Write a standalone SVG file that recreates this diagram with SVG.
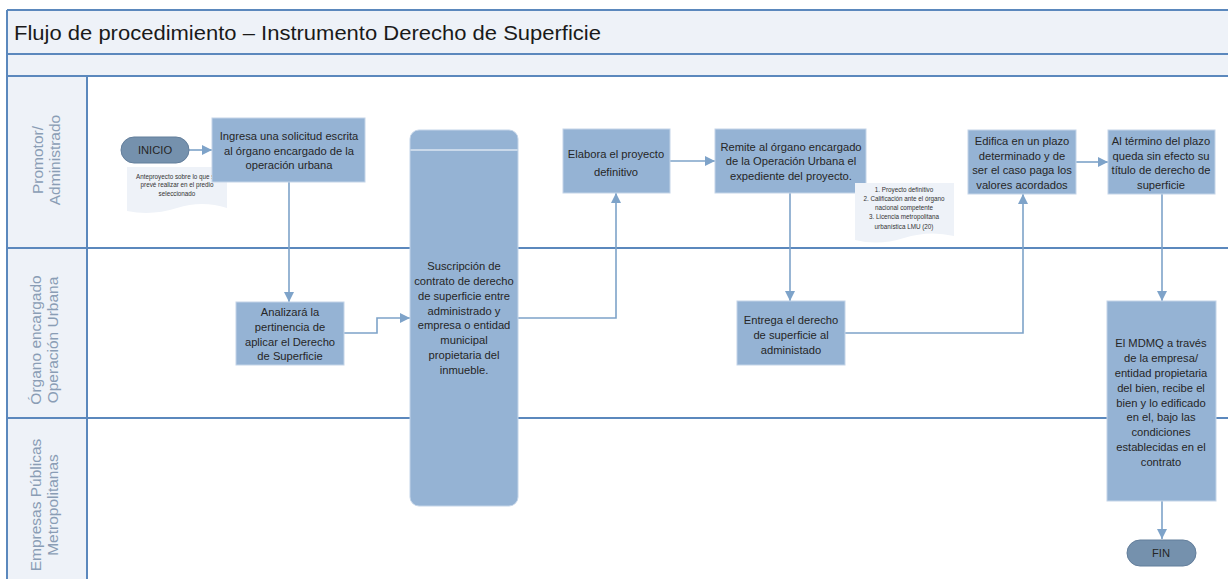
<svg xmlns="http://www.w3.org/2000/svg" width="1228" height="579" viewBox="0 0 1228 579">
<defs>
<style>
.frame{fill:none;stroke:#5b88bd;stroke-width:2}
.hdr{fill:#eef2f8}
.lane{font-family:"Liberation Sans",Arial,sans-serif;font-size:15.5px;fill:#8a9db5;text-anchor:middle}
.box{fill:#95b3d4;stroke:#c3d4e8;stroke-width:1}
.pill{fill:#7591ad;stroke:#637e9b;stroke-width:1}
.t{font-family:"Liberation Sans",Arial,sans-serif;font-size:11.2px;fill:#262626;text-anchor:middle}
.note{fill:#eef2f8;stroke:none}
.nt{font-family:"Liberation Sans",Arial,sans-serif;font-size:6.3px;fill:#333;text-anchor:middle}
.conn{fill:none;stroke:#7ea3c9;stroke-width:1.6}
</style>
<marker id="arr" markerUnits="userSpaceOnUse" markerWidth="12" markerHeight="12" refX="10" refY="5" orient="auto">
<path d="M0,0 L10,5 L0,10 Z" fill="#7ea3c9"/>
</marker>
</defs>
<rect width="1228" height="579" fill="#ffffff"/>
<g id="frame">
<rect class="hdr" x="7" y="10" width="1230" height="66"/>
<rect class="hdr" x="7" y="76" width="80" height="510"/>
<line class="frame" x1="7" y1="10" x2="1230" y2="10"/>
<line class="frame" x1="7" y1="10" x2="7" y2="580"/>
<line class="frame" x1="7" y1="54" x2="1230" y2="54"/>
<line class="frame" x1="7" y1="76" x2="1230" y2="76"/>
<line class="frame" x1="87" y1="76" x2="87" y2="580"/>
<line class="frame" x1="7" y1="248" x2="1230" y2="248"/>
<line class="frame" x1="7" y1="418" x2="1230" y2="418"/>
<text x="14" y="40" font-family="'Liberation Sans',Arial,sans-serif" font-size="20" fill="#1a1a1a" textLength="587" lengthAdjust="spacingAndGlyphs">Flujo de procedimiento – Instrumento Derecho de Superficie</text>
<text class="lane" transform="rotate(-90)"><tspan x="-160" y="43">Promotor/</tspan><tspan x="-160" y="60">Administrado</tspan></text>
<text class="lane" transform="rotate(-90)"><tspan x="-340" y="41">Órgano encargado</tspan><tspan x="-340" y="58">Operación Urbana</tspan></text>
<text class="lane" transform="rotate(-90)"><tspan x="-505" y="41">Empresas Públicas</tspan><tspan x="-505" y="58">Metropolitanas</tspan></text>
</g>
<g id="connectors">
<path class="conn" d="M189,150 H212" marker-end="url(#arr)"/>
<path class="conn" d="M289,182 V302" marker-end="url(#arr)"/>
<path class="conn" d="M344,333 H377 V318 H410" marker-end="url(#arr)"/>
<path class="conn" d="M518,318 H616 V193" marker-end="url(#arr)"/>
<path class="conn" d="M670,161 H715" marker-end="url(#arr)"/>
<path class="conn" d="M790,193 V301" marker-end="url(#arr)"/>
<path class="conn" d="M845,333 H1023 V194" marker-end="url(#arr)"/>
<path class="conn" d="M1076,162 H1108" marker-end="url(#arr)"/>
<path class="conn" d="M1162,194 V301" marker-end="url(#arr)"/>
<path class="conn" d="M1162,501 V539" marker-end="url(#arr)"/>
</g>
<g id="inicio">
<rect class="pill" x="121" y="137" width="68" height="26" rx="13"/>
<text class="t" x="155" y="154">INICIO</text>
</g>
<g id="nota-anteproyecto">
<path class="note" d="M127,167 H227 V208 Q202,200 177,208 T127,211 Z"/>
<text class="nt"><tspan x="177" y="178.5">Anteproyecto sobre lo que se</tspan><tspan x="177" y="187">prevé realizar en el predio</tspan><tspan x="177" y="195.5">seleccionado</tspan></text>
</g>
<g id="ingresa">
<rect class="box" x="212" y="118" width="153" height="64"/>
<text class="t"><tspan x="289" y="140">Ingresa una solicitud escrita</tspan><tspan x="289" y="155">al órgano encargado de la</tspan><tspan x="289" y="169">operación urbana</tspan></text>
</g>
<g id="analizara">
<rect class="box" x="236" y="302" width="108" height="63"/>
<text class="t"><tspan x="290" y="316">Analizará la</tspan><tspan x="290" y="331">pertinencia de</tspan><tspan x="290" y="346">aplicar el Derecho</tspan><tspan x="290" y="360">de Superficie</tspan></text>
</g>
<g id="suscripcion">
<rect class="box" x="410" y="130" width="108" height="376" rx="9"/>
<line x1="410.5" y1="150" x2="517.5" y2="150" stroke="#ffffff" stroke-width="1.2"/>
<text class="t"><tspan x="464" y="270">Suscripción de</tspan><tspan x="464" y="285">contrato de derecho</tspan><tspan x="464" y="300">de superficie entre</tspan><tspan x="464" y="315">administrado y</tspan><tspan x="464" y="329">empresa o entidad</tspan><tspan x="464" y="344">municipal</tspan><tspan x="464" y="359">propietaria del</tspan><tspan x="464" y="374">inmueble.</tspan></text>
</g>
<g id="elabora">
<rect class="box" x="563" y="129" width="107" height="64"/>
<text class="t"><tspan x="616" y="158">Elabora el proyecto</tspan><tspan x="616" y="176">definitivo</tspan></text>
</g>
<g id="remite">
<rect class="box" x="715" y="129" width="151" height="64"/>
<text class="t"><tspan x="791" y="151">Remite al órgano encargado</tspan><tspan x="791" y="165">de la Operación Urbana el</tspan><tspan x="791" y="180">expediente del proyecto.</tspan></text>
</g>
<g id="nota-requisitos">
<path class="note" d="M855,183 H954 V236 Q929,230 904,238 T855,240 Z"/>
<text class="nt"><tspan x="904" y="192">1. Proyecto definitivo</tspan><tspan x="904" y="201">2. Calificación ante el órgano</tspan><tspan x="904" y="210">nacional competente</tspan><tspan x="904" y="219">3. Licencia metropolitana</tspan><tspan x="904" y="229">urbanística LMU (20)</tspan></text>
</g>
<g id="entrega">
<rect class="box" x="737" y="301" width="108" height="64"/>
<text class="t"><tspan x="791" y="324">Entrega el derecho</tspan><tspan x="791" y="339">de superficie al</tspan><tspan x="791" y="354">administado</tspan></text>
</g>
<g id="edifica">
<rect class="box" x="968" y="130" width="108" height="64"/>
<text class="t"><tspan x="1022" y="145">Edifica en un plazo</tspan><tspan x="1022" y="159.5">determinado y de</tspan><tspan x="1022" y="174">ser el caso paga los</tspan><tspan x="1022" y="188.5">valores acordados</tspan></text>
</g>
<g id="termino">
<rect class="box" x="1108" y="130" width="107" height="64"/>
<text class="t"><tspan x="1161" y="145">Al término del plazo</tspan><tspan x="1161" y="159.5">queda sin efecto su</tspan><tspan x="1161" y="174">título de derecho de</tspan><tspan x="1161" y="188.5">superficie</tspan></text>
</g>
<g id="mdmq">
<rect class="box" x="1107" y="301" width="109" height="200"/>
<text class="t"><tspan x="1161" y="347">El MDMQ a través</tspan><tspan x="1161" y="362">de la empresa/</tspan><tspan x="1161" y="377">entidad propietaria</tspan><tspan x="1161" y="392">del bien, recibe el</tspan><tspan x="1161" y="407">bien y lo edificado</tspan><tspan x="1161" y="421">en el, bajo las</tspan><tspan x="1161" y="436">condiciones</tspan><tspan x="1161" y="451">establecidas en el</tspan><tspan x="1161" y="466">contrato</tspan></text>
</g>
<g id="fin">
<rect class="pill" x="1127" y="540" width="69" height="26" rx="13"/>
<text class="t" x="1161" y="557">FIN</text>
</g>
</svg>
